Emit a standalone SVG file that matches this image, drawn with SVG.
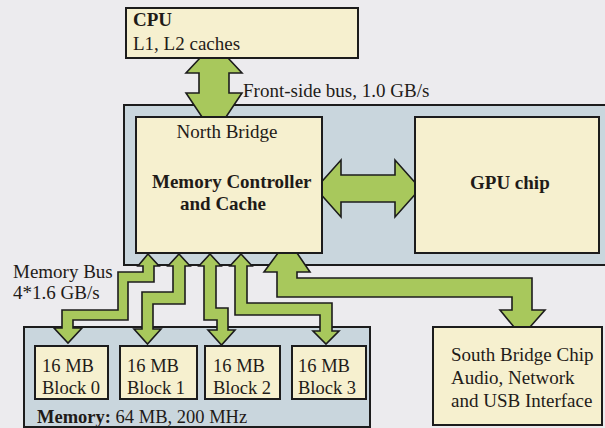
<svg xmlns="http://www.w3.org/2000/svg" width="605" height="428" viewBox="0 0 605 428">
  <style>
    text { font-family: "Liberation Serif", "Times New Roman", serif; font-size: 19px; fill: #1f1b18; }
    .b { font-weight: bold; }
    .sm { font-size: 18.5px; }
    .chip { fill: #f6f0cf; stroke: #1c1c1c; stroke-width: 2; }
    .frame { fill: #c9d6dd; stroke: #1c1c1c; stroke-width: 2; }
    .bus { fill: #a8c85c; stroke: #1c1c1c; stroke-width: 1.6; stroke-linejoin: miter; }
  </style>

  <!-- page -->
  <rect x="0" y="0" width="605" height="428" fill="#ecebee"/>

  <!-- containers -->
  <g id="north-bridge">
    <rect class="frame" x="124" y="105" width="490" height="160"/>
  </g>
  <g id="memory">
    <rect class="frame" x="24" y="327" width="346" height="100"/>
    <text x="37" y="423" class="sm"><tspan class="b">Memory:</tspan> 64 MB, 200 MHz</text>
  </g>

  <!-- buses -->
  <g id="connectors">
    <!-- front-side bus -->
    <polygon class="bus" points="200,58 228,58 242,73 229,73 229,93 242,93 226,117 202,117 186,93 199,93 199,73 186,73"/>
    <!-- north bridge to GPU -->
    <polygon class="bus" points="321,182.5 341,160 341,175 395,175 395,160 415,182.5 415,194.5 395,217 395,202 341,202 341,217 321,194.5"/>
    <!-- memory bus, block 0 -->
    <polygon class="bus" points="148,254 159,266 154,266 154,282 128,282 128,320 73,320 73,328 82,328 68,343 54,328 62,328 62,310 118,310 118,272 143,272 143,266 138,266"/>
    <!-- memory bus, block 1 -->
    <polygon class="bus" points="179,254 190,266 185,266 185,304 153,304 153,329 161,329 147.5,344 134,329 142,329 142,292 173,292 173,266 168,266"/>
    <!-- memory bus, block 2 -->
    <polygon class="bus" points="210,254 221,266 216,266 216,308 228,308 228,330 235,330 221.5,345 208,330 217,330 217,320 204,320 204,266 199,266"/>
    <!-- memory bus, block 3 -->
    <polygon class="bus" points="241,254 252,266 247,266 247,303 332,303 332,331 339,331 326,344 313,331 320,331 320,315 235,315 235,266 230,266"/>
    <!-- north bridge to south bridge -->
    <polygon class="bus" points="278,253 297,253 310,272 297,272 297,278 532,278 532,310 545,310 530,327 514,327 500,310 512,310 512,297 277,297 277,272 264,272"/>
    <text x="243" y="97">Front-side bus, 1.0 GB/s</text>
    <text x="13" y="278">Memory Bus</text>
    <text x="13" y="299">4*1.6 GB/s</text>
  </g>

  <g id="cpu">
    <rect class="chip" x="126" y="8" width="232" height="50"/>
    <text x="133" y="26" class="b">CPU</text>
    <text x="133" y="50">L1, L2 caches</text>
  </g>

  <g id="memory-controller">
    <rect class="chip" x="136" y="117" width="186" height="136"/>
    <text x="227" y="138" text-anchor="middle">North Bridge</text>
    <text x="152" y="188" class="b">Memory Controller</text>
    <text x="180" y="210" class="b">and Cache</text>
  </g>

  <g id="gpu">
    <rect class="chip" x="415" y="117" width="184" height="136"/>
    <text x="470" y="189" class="b">GPU chip</text>
  </g>

  <g id="block-0">
    <rect class="chip" x="35" y="346" width="73" height="53"/>
    <text x="42" y="372" class="sm">16 MB</text>
    <text x="42" y="394" class="sm">Block 0</text>
  </g>
  <g id="block-1">
    <rect class="chip" x="120" y="346" width="77" height="53"/>
    <text x="127" y="372" class="sm">16 MB</text>
    <text x="127" y="394" class="sm">Block 1</text>
  </g>
  <g id="block-2">
    <rect class="chip" x="205" y="346" width="75" height="53"/>
    <text x="213" y="372" class="sm">16 MB</text>
    <text x="213" y="394" class="sm">Block 2</text>
  </g>
  <g id="block-3">
    <rect class="chip" x="292" y="346" width="74" height="53"/>
    <text x="298" y="372" class="sm">16 MB</text>
    <text x="298" y="394" class="sm">Block 3</text>
  </g>

  <g id="south-bridge">
    <rect class="chip" x="433" y="327" width="169" height="98"/>
    <text x="451" y="361">South Bridge Chip</text>
    <text x="451" y="384">Audio, Network</text>
    <text x="451" y="407">and USB Interface</text>
  </g>
</svg>
